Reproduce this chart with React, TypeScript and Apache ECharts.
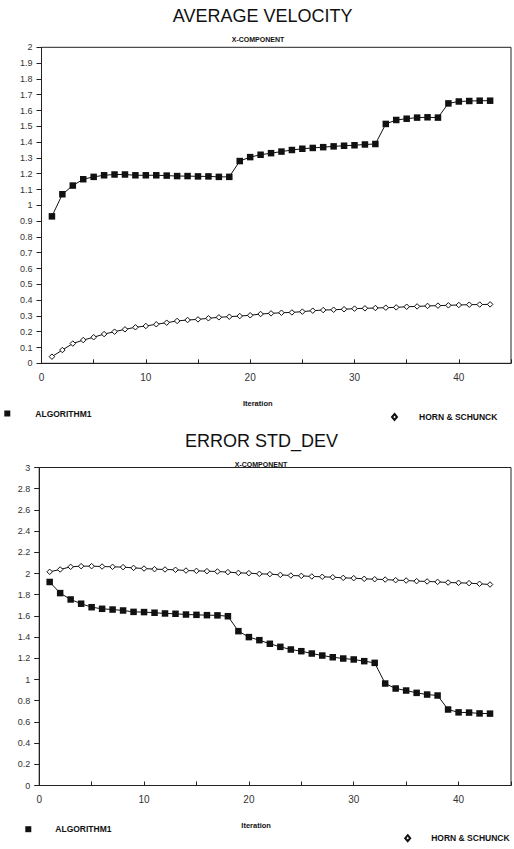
import React, { useEffect, useRef } from "react";
import * as echarts from "echarts";

const FONT = "'Liberation Sans', Arial, sans-serif";

const iterations = [
  1, 2, 3, 4, 5, 6, 7, 8, 9, 10, 11, 12, 13, 14, 15, 16, 17, 18, 19, 20, 21, 22,
  23, 24, 25, 26, 27, 28, 29, 30, 31, 32, 33, 34, 35, 36, 37, 38, 39, 40, 41, 42, 43,
];

// AVERAGE VELOCITY (X-COMPONENT)
const velAlgorithm1 = [
  0.93, 1.07, 1.125, 1.165, 1.18, 1.19, 1.195, 1.195, 1.19, 1.19, 1.19, 1.188,
  1.185, 1.185, 1.183, 1.183, 1.18, 1.18, 1.28, 1.305, 1.32, 1.33, 1.34, 1.35,
  1.358, 1.363, 1.368, 1.373, 1.377, 1.38, 1.385, 1.388, 1.515, 1.54, 1.548,
  1.555, 1.557, 1.555, 1.645, 1.657, 1.66, 1.662, 1.662,
];
const velHornSchunck = [
  0.042, 0.084, 0.125, 0.147, 0.165, 0.185, 0.2, 0.215, 0.228, 0.236, 0.247,
  0.257, 0.268, 0.274, 0.278, 0.285, 0.291, 0.295, 0.299, 0.304, 0.312, 0.316,
  0.32, 0.322, 0.327, 0.333, 0.337, 0.339, 0.342, 0.346, 0.348, 0.35, 0.352,
  0.354, 0.358, 0.36, 0.363, 0.365, 0.367, 0.369, 0.371, 0.372, 0.373,
];

// ERROR STD_DEV (X-COMPONENT)
const errAlgorithm1 = [
  1.92, 1.815, 1.755, 1.715, 1.682, 1.667, 1.66, 1.651, 1.638, 1.636, 1.63,
  1.623, 1.62, 1.613, 1.61, 1.607, 1.605, 1.597, 1.456, 1.4, 1.371, 1.337,
  1.308, 1.283, 1.267, 1.245, 1.226, 1.21, 1.198, 1.189, 1.173, 1.157, 0.962,
  0.915, 0.896, 0.874, 0.858, 0.849, 0.717, 0.69, 0.688, 0.68, 0.678,
];
const errHornSchunck = [
  2.016, 2.038, 2.063, 2.069, 2.069, 2.066, 2.063, 2.06, 2.053, 2.047, 2.041,
  2.038, 2.035, 2.028, 2.025, 2.022, 2.019, 2.013, 2.006, 2.003, 1.997, 1.994,
  1.987, 1.981, 1.978, 1.972, 1.969, 1.965, 1.959, 1.956, 1.95, 1.946, 1.943,
  1.937, 1.934, 1.928, 1.925, 1.921, 1.915, 1.912, 1.909, 1.903, 1.896,
];

const titles = ["AVERAGE VELOCITY", "ERROR STD_DEV"];
const subtitle = "X-COMPONENT";
const xName = "Iteration";
const seriesNames = ["ALGORITHM1", "HORN & SCHUNCK"];

const pairs = (vals: number[]) => iterations.map((it, i) => [it, vals[i]]);

export default function App() {
  const ref = useRef<HTMLDivElement>(null);
  useEffect(() => {
    if (!ref.current) return;
    const chart = echarts.init(ref.current, undefined, { renderer: "svg" });

    const titleStyle = { fontFamily: FONT, fontSize: 18, fontWeight: "normal", color: "#111", lineHeight: 18 };
    const subStyle = { fontFamily: FONT, fontSize: 7, fontWeight: "bold", color: "#111", lineHeight: 8 };

    const xAxisBase = (gridIndex: number, nameGap: number, padRight: number) => ({
      gridIndex,
      type: "value",
      min: 0,
      max: 45,
      interval: 5,
      axisLine: { show: true, lineStyle: { color: "#222", width: 1 } },
      axisTick: { show: true, inside: true, length: 4, lineStyle: { color: "#222" } },
      splitLine: { show: false },
      axisLabel: {
        formatter: (v: number) => (v % 10 === 0 ? String(v) : ""),
        margin: 9,
        fontSize: 10,
        color: "#333",
        fontFamily: FONT,
      },
      name: xName,
      nameLocation: "middle",
      nameGap,
      nameTextStyle: { fontFamily: FONT, fontSize: 7.5, fontWeight: "bold", color: "#111", padding: [0, padRight, 0, 0] },
    });

    const yAxisBase = (gridIndex: number, max: number, interval: number) => ({
      gridIndex,
      type: "value",
      min: 0,
      max,
      interval,
      axisLine: { show: true, lineStyle: { color: "#222", width: 1 } },
      axisTick: { show: true, inside: false, length: 5, lineStyle: { color: "#222" } },
      splitLine: { show: false },
      axisLabel: { margin: 9, fontSize: 9, color: "#333", fontFamily: FONT },
    });

    const algSeries = (name: string, vals: number[], idx: number) => ({
      name,
      type: "line",
      xAxisIndex: idx,
      yAxisIndex: idx,
      data: pairs(vals),
      symbol: "rect",
      symbolSize: 6.5,
      lineStyle: { color: "#111", width: 1 },
      itemStyle: { color: "#111" },
    });
    const hsSeries = (name: string, vals: number[], idx: number) => ({
      name,
      type: "line",
      xAxisIndex: idx,
      yAxisIndex: idx,
      data: pairs(vals),
      symbol: "diamond",
      symbolSize: 5.5,
      lineStyle: { color: "#111", width: 1 },
      itemStyle: { color: "#fff", borderColor: "#111", borderWidth: 1 },
    });

    const legendText = (pad: number) => ({
      fontFamily: FONT,
      fontSize: 8.5,
      fontWeight: "bold",
      color: "#111",
      padding: [0, 0, 0, pad],
    });

    chart.setOption({
      animation: false,
      backgroundColor: "#fff",
      title: [
        { text: titles[0], left: 262.7, top: 7, textAlign: "center", padding: 0, textStyle: titleStyle },
        { text: subtitle, left: 258, top: 35.5, textAlign: "center", padding: 0, textStyle: subStyle },
        { text: titles[1], left: 261.5, top: 431.5, textAlign: "center", padding: 0, textStyle: titleStyle },
        { text: subtitle, left: 261, top: 460.5, textAlign: "center", padding: 0, textStyle: subStyle },
      ],
      grid: [
        { left: 41.5, top: 47.3, width: 472, height: 316, show: true, borderColor: "#222", borderWidth: 1, backgroundColor: "transparent" },
        { left: 39.2, top: 467.5, width: 472.5, height: 318, show: true, borderColor: "#222", borderWidth: 1, backgroundColor: "transparent" },
      ],
      xAxis: [xAxisBase(0, 36, 37), xAxisBase(1, 35.5, 38)],
      yAxis: [yAxisBase(0, 2, 0.1), yAxisBase(1, 3, 0.2)],
      legend: [
        {
          data: [{ name: seriesNames[0], icon: "rect" }],
          left: 4.3, top: 409, padding: 0, itemWidth: 6, itemHeight: 6,
          textStyle: legendText(20), selectedMode: false,
        },
        {
          data: [{ name: seriesNames[1], icon: "diamond" }],
          left: 391, top: 412.5, padding: 0, itemWidth: 5, itemHeight: 6,
          textStyle: legendText(17), selectedMode: false,
        },
        {
          data: [{ name: seriesNames[0], icon: "rect" }],
          left: 25.3, top: 824.7, padding: 0, itemWidth: 6, itemHeight: 6,
          textStyle: legendText(19), selectedMode: false,
        },
        {
          data: [{ name: seriesNames[1], icon: "diamond" }],
          left: 404.2, top: 833.7, padding: 0, itemWidth: 5, itemHeight: 6,
          textStyle: legendText(16), selectedMode: false,
        },
      ],
      series: [
        algSeries(seriesNames[0], velAlgorithm1, 0),
        hsSeries(seriesNames[1], velHornSchunck, 0),
        algSeries(seriesNames[0], errAlgorithm1, 1),
        hsSeries(seriesNames[1], errHornSchunck, 1),
      ],
    });

    return () => chart.dispose();
  }, []);

  return (
    <div
      ref={ref}
      style={{ position: "fixed", left: 0, top: 0, width: 514, height: 849, background: "#fff" }}
    />
  );
}
